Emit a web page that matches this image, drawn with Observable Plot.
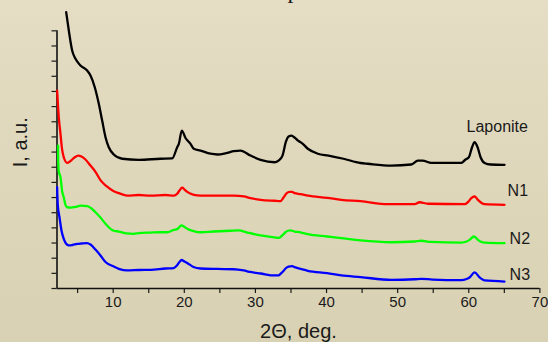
<!DOCTYPE html>
<html>
<head>
<meta charset="utf-8">
<script src="https://cdn.jsdelivr.net/npm/d3@7"></script>
<script src="https://cdn.jsdelivr.net/npm/@observablehq/plot@0.6"></script>
<style>
  html, body { margin: 0; padding: 0; }
  body {
    width: 548px; height: 342px; overflow: hidden;
    background: linear-gradient(to bottom, #e5ddc4 0%, #ded6b9 60%, #d9d1b3 100%);
  }
  #chart { position: absolute; left: 0; top: 0; }
</style>
</head>
<body>
<div id="chart"></div>
<script>
// 2θ (deg) and intensity (a.u.)
const lapX = [3.39,3.76,4.23,4.70,5.40,6.34,6.81,7.41,7.97,8.45,8.92,9.38,10.08,11.27,13.60,16.65,18.30,19.00,19.23,19.65,20.17,20.87,21.34,22.28,23.68,24.63,26.03,26.96,27.90,29.31,30.72,32.69,33.25,33.81,34.30,34.66,35.08,35.50,35.99,36.62,37.37,38.78,40.28,42.39,44.78,45.81,49.10,51.91,52.84,53.50,54.73,58.95,59.55,60.01,60.46,60.82,61.24,61.66,62.22,63.07,65.03];
const lapY = [18.23,17.02,15.70,15.15,14.71,14.38,14.05,13.28,12.20,11.08,9.98,9.32,8.84,8.56,8.49,8.56,8.58,9.32,9.54,10.42,9.93,9.54,9.22,9.10,8.89,8.84,8.95,9.06,9.10,8.77,8.49,8.33,8.44,8.77,9.70,10.03,10.09,9.96,9.76,9.56,9.22,8.89,8.77,8.56,8.28,8.23,8.11,8.18,8.44,8.44,8.29,8.29,8.51,8.66,9.32,9.65,9.32,8.66,8.28,8.18,8.16];

const n1X = [2.12,2.35,2.59,2.80,3.05,3.53,3.99,4.56,5.08,5.54,6.10,6.81,7.51,8.21,9.06,10.08,10.79,11.97,13.60,15.25,17.36,18.52,19.00,19.32,19.70,20.03,20.41,21.34,22.28,24.63,26.96,28.37,29.31,30.72,32.69,33.53,33.95,34.37,34.80,35.15,35.50,36.34,37.37,40.10,42.07,44.78,48.62,52.38,53.08,54.25,59.41,59.97,60.35,60.82,61.28,61.80,62.22,65.03];
const n1Y = [13.06,11.30,10.20,9.23,8.66,8.29,8.41,8.64,8.77,8.71,8.51,8.11,7.70,7.15,6.75,6.42,6.29,6.13,6.17,6.13,6.17,6.13,6.25,6.46,6.65,6.53,6.37,6.18,6.13,6.13,6.13,6.07,5.96,5.85,5.79,5.77,6.00,6.27,6.37,6.37,6.29,6.23,6.13,5.98,5.85,5.76,5.56,5.56,5.69,5.59,5.56,5.74,5.96,6.07,5.85,5.64,5.56,5.52];

const n2X = [2.24,2.26,2.35,2.59,2.83,3.05,3.29,3.53,3.99,4.70,5.40,6.34,6.95,7.51,8.21,8.92,10.08,10.79,11.87,12.90,13.60,15.25,16.65,17.59,18.52,19.00,19.32,19.61,20.03,20.41,21.29,22.28,24.11,26.50,27.62,28.85,30.72,32.69,33.29,33.85,34.23,34.56,34.94,35.50,36.34,37.37,40.10,42.07,44.78,49.10,52.38,53.32,54.63,58.95,59.69,60.11,60.72,61.28,61.80,62.22,65.03];
const n2Y = [9.43,8.66,7.72,7.34,6.40,6.02,5.52,5.36,5.34,5.38,5.47,5.44,5.28,5.03,4.68,4.27,3.81,3.76,3.63,3.61,3.66,3.69,3.71,3.71,3.87,3.92,4.06,4.16,4.06,3.94,3.79,3.71,3.76,3.81,3.83,3.69,3.50,3.38,3.34,3.54,3.71,3.81,3.83,3.76,3.71,3.58,3.43,3.32,3.17,3.05,3.10,3.15,3.07,3.03,3.10,3.21,3.43,3.21,3.07,3.03,2.99];

const n3X = [2.12,2.21,2.45,2.73,3.05,3.36,3.76,4.28,4.94,5.54,6.34,6.81,7.51,8.21,8.92,10.08,10.79,11.97,13.60,15.25,17.36,18.52,18.97,19.32,19.61,20.03,20.41,21.29,22.28,24.63,26.96,28.33,29.31,30.72,32.69,33.25,33.53,33.88,34.23,34.66,35.18,35.50,36.34,37.37,40.10,42.07,44.78,49.10,52.38,53.32,54.91,58.95,59.69,60.11,60.82,61.52,61.94,62.22,65.03];
const n3Y = [6.68,5.52,4.70,3.83,3.27,2.97,2.84,2.87,2.94,2.97,3.00,2.90,2.57,2.18,1.75,1.45,1.30,1.19,1.22,1.23,1.32,1.35,1.52,1.75,1.88,1.78,1.68,1.42,1.32,1.29,1.27,1.19,1.09,0.99,0.86,0.86,0.97,1.12,1.32,1.45,1.48,1.41,1.30,1.17,1.01,0.86,0.75,0.57,0.61,0.64,0.59,0.55,0.63,0.73,1.06,0.73,0.59,0.53,0.46];

const seriesNames = ["Laponite", "N1", "N2", "N3"];
const seriesColors = ["#000000", "#ff0000", "#00ff00", "#0000ff"];
const labelX = [59.69, 65.46, 65.74, 65.74];
const labelY = [10.69, 6.47, 3.28, 0.91];
const xTicks = [5,10,15,20,25,30,35,40,45,50,55,60,65,70];
const yTicks = [0,1,2,3,4,5,6,7,8,9,10,11,12,13,14,15,16,17];
const xLabel = "2\u0398, deg.";
const yLabel = "I, a.u.";
const titleFragment = "p";

const toRows = (xs, ys) => xs.map((x, i) => ({x, y: ys[i]}));
const curves = [toRows(lapX, lapY), toRows(n1X, n1Y), toRows(n2X, n2Y), toRows(n3X, n3Y)];
const labels = seriesNames.map((name, i) => ({name, x: labelX[i], y: labelY[i]}));

const font = "Liberation Sans, Arial, sans-serif";

const plot = Plot.plot({
  width: 548,
  height: 342,
  marginLeft: 56.5,
  marginRight: 8.6,
  marginTop: 0,
  marginBottom: 54,
  style: {background: "transparent", color: "#1a1a1a", fontFamily: font, overflow: "hidden"},
  x: {domain: [2.1, 70]},
  y: {domain: [0, 19]},
  marks: [
    Plot.axisX({ticks: xTicks, tickFormat: d => d % 10 === 0 ? String(d) : "", tickSize: 5, tickPadding: 3, fontSize: 15, label: null, strokeWidth: 1.2}),
    Plot.axisY({ticks: yTicks, tickFormat: () => "", tickSize: 5, label: null, strokeWidth: 1.2}),
    Plot.ruleY([0], {stroke: "#111", strokeWidth: 1.6}),
    Plot.ruleX([2.1], {y1: 0, y2: 17, stroke: "#111", strokeWidth: 1.6}),
    ...curves.map((rows, i) => Plot.line(rows, {x: "x", y: "y", stroke: seriesColors[i], strokeWidth: 2.3, strokeLinejoin: "round", curve: "monotone-x"})),
    Plot.text(labels, {x: "x", y: "y", text: "name", textAnchor: "start", lineAnchor: "middle", fontSize: 16, fill: "#1a1a1a"}),
    Plot.text([xLabel], {frameAnchor: "bottom", dy: 43, lineAnchor: "middle", fontSize: 20, fill: "#1a1a1a"}),
    Plot.text([yLabel], {frameAnchor: "left", y: [8], dx: -36, rotate: -90, lineAnchor: "middle", fontSize: 20, fill: "#1a1a1a"}),
    Plot.text([titleFragment], {x: [35.36], frameAnchor: "top", dy: -10.5, lineAnchor: "middle", fontSize: 24, fontFamily: "Liberation Serif, serif", fill: "#1a1a1a"})
  ]
});
document.getElementById("chart").appendChild(plot);
</script>
</body>
</html>
